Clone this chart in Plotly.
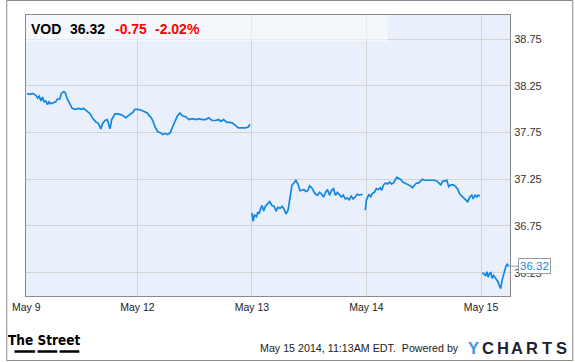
import plotly.graph_objects as go

# ---------------- data (x = trading-day position, 0 = May 9 open) ----------------
may9_12_x = [0.037,0.057,0.086,0.115,0.129,0.143,0.158,0.172,0.186,0.201,0.216,0.229,0.244,0.272,0.287,0.302,0.324,0.336,0.359,0.373,
             0.388,0.410,0.431,0.459,0.488,0.517,0.531,0.560,0.589,0.612,0.641,0.660,0.681,0.698,0.718,0.738,0.761,0.776,0.804,0.833,
             0.862,0.899,0.928,0.962,0.977,1.005,1.034,1.063,1.086,1.106,1.121,1.134,1.155,1.178,1.201,1.221,1.241,1.264,1.287,1.307,
             1.328,1.350,1.373,1.393,1.422,1.451,1.479,1.509,1.537,1.566,1.595,1.623,1.652,1.681,1.709,1.729,1.753,1.781,1.810,1.833,
             1.853,1.882,1.910,1.940,1.968,1.983]
may9_12_y = [38.17,38.16,38.17,38.15,38.12,38.14,38.09,38.13,38.08,38.09,38.05,38.08,38.06,38.07,38.08,38.11,38.11,38.17,38.19,38.17,
             38.11,38.06,38.01,38.00,38.01,38.00,38.01,37.98,37.95,37.90,37.86,37.85,37.79,37.85,37.88,37.89,37.79,37.89,37.95,37.95,
             37.94,37.91,37.94,37.97,38.00,38.00,37.99,37.97,37.96,37.93,37.91,37.88,37.81,37.76,37.75,37.73,37.74,37.73,37.75,37.81,
             37.86,37.93,37.96,37.93,37.92,37.89,37.90,37.89,37.90,37.89,37.89,37.91,37.88,37.88,37.89,37.87,37.89,37.86,37.86,37.85,
             37.83,37.80,37.80,37.80,37.81,37.84]

may13_x = [2.000,2.005,2.011,2.022,2.040,2.052,2.063,2.074,2.089,2.103,2.117,2.138,2.155,2.175,2.195,2.212,2.227,2.247,2.264,2.281,
           2.298,2.316,2.328,2.339,2.350,2.367,2.384,2.402,2.419,2.436,2.453,2.471,2.488,2.505,2.522,2.540,2.557,2.574,2.591,2.609,
           2.626,2.643,2.660,2.678,2.695,2.712,2.729,2.747,2.764,2.781,2.798,2.816,2.833,2.850,2.867,2.884,2.902,2.919,2.936,2.966]
may13_y = [36.89,36.83,36.80,36.87,36.85,36.90,36.88,36.93,36.97,36.91,36.96,36.99,37.01,36.97,36.96,36.91,36.95,36.94,36.96,36.93,
           36.88,36.92,37.01,37.12,37.19,37.21,37.24,37.20,37.13,37.13,37.14,37.12,37.13,37.18,37.16,37.12,37.09,37.08,37.11,37.09,
           37.06,37.11,37.14,37.08,37.13,37.15,37.08,37.11,37.09,37.06,37.08,37.04,37.05,37.03,37.07,37.04,37.06,37.09,37.08,37.09]

may14_x = [2.990,3.000,3.011,3.022,3.037,3.052,3.069,3.086,3.103,3.121,3.132,3.149,3.166,3.184,3.201,3.218,3.235,3.253,3.264,3.281,
           3.298,3.316,3.333,3.350,3.367,3.384,3.402,3.419,3.436,3.453,3.471,3.488,3.505,3.534,3.563,3.591,3.615,3.632,3.649,3.666,
           3.684,3.701,3.718,3.735,3.759,3.781,3.798,3.816,3.833,3.850,3.867,3.884,3.902,3.919,3.931,3.948,3.962,3.975,3.990]
may14_y = [36.92,37.03,37.06,37.09,37.06,37.10,37.11,37.15,37.14,37.16,37.13,37.19,37.21,37.20,37.22,37.20,37.21,37.24,37.27,37.26,
           37.25,37.22,37.21,37.20,37.19,37.18,37.16,37.19,37.21,37.21,37.23,37.25,37.24,37.24,37.24,37.24,37.23,37.21,37.19,37.23,
           37.23,37.24,37.17,37.19,37.19,37.17,37.14,37.09,37.07,37.04,37.03,37.01,37.06,37.08,37.04,37.08,37.06,37.08,37.07]

may15_x = [4.011,4.028,4.040,4.052,4.063,4.074,4.086,4.097,4.109,4.121,4.138,4.149,4.160,4.172,4.184,4.195,4.207,4.218,4.229,4.241]
may15_y = [36.25,36.23,36.22,36.26,36.20,36.24,36.25,36.19,36.22,36.20,36.17,36.15,36.11,36.08,36.17,36.22,36.27,36.32,36.34,36.32]

x_tick_pos = [0.03, 1, 2, 3, 4]
x_tick_labels = ["May 9", "May 12", "May 13", "May 14", "May 15"]
y_ticks = [36.25, 36.75, 37.25, 37.75, 38.25, 38.75]
y_tick_labels = ["36.25", "36.75", "37.25", "37.75", "38.25", "38.75"]

ticker = "VOD"
last_price = "36.32"
change = "-0.75"
change_pct = "-2.02%"
footer = "May 15 2014, 11:13AM EDT.\u00a0\u00a0Powered by"

# ---------------- figure ----------------
W, H = 575, 362
ML, MR, MT, MB = 20, 65, 15, 66
PW, PH = W - ML - MR, H - MT - MB


def px2x(px):
    return (px - ML) / PW


def py2y(py):
    return (H - MB - py) / PH


xs, ys = [], []
for sx, sy in [(may9_12_x, may9_12_y), (may13_x, may13_y), (may14_x, may14_y), (may15_x, may15_y)]:
    if xs:
        xs.append(None)
        ys.append(None)
    xs.extend(sx)
    ys.extend(sy)

FONT = "Liberation Sans, Arial, sans-serif"
BLUE = "#1187E3"

fig = go.Figure()
fig.add_trace(go.Scatter(x=xs, y=ys, mode="lines", line=dict(color=BLUE, width=1.7),
                         connectgaps=False, hoverinfo="skip", showlegend=False))

fig.update_layout(
    width=W, height=H,
    margin=dict(l=ML, r=MR, t=MT, b=MB, pad=0),
    paper_bgcolor="white",
    plot_bgcolor="#E9F0FB",
    font=dict(family=FONT, size=11, color="#333333"),
    showlegend=False,
)
fig.update_xaxes(range=[0.028, 4.253], tickvals=x_tick_pos, ticktext=x_tick_labels,
                 showgrid=True, gridcolor="#D3D3D3", gridwidth=1, zeroline=False,
                 showline=True, linecolor="#8A8A8A", linewidth=1, mirror=True,
                 ticks="", ticklabelstandoff=1, tickfont=dict(size=10.5, color="#222222"))
fig.update_yaxes(range=[36.0, 39.01], tickvals=y_ticks, ticktext=y_tick_labels, side="right",
                 showgrid=True, gridcolor="#D3D3D3", gridwidth=1, zeroline=False,
                 showline=True, linecolor="#8A8A8A", linewidth=1, mirror=True,
                 ticks="", ticklabelstandoff=1, tickfont=dict(size=11, color="#333333"))

shapes = []
# translucent header band
shapes.append(dict(type="rect", xref="paper", yref="paper", x0=0, x1=px2x(386), y0=py2y(41.5), y1=1,
                   fillcolor="rgba(255,255,255,0.5)", line=dict(width=0), layer="above"))
# outer frame
shapes.append(dict(type="rect", xref="paper", yref="paper", x0=px2x(0.5), x1=px2x(573.5),
                   y0=py2y(360.5), y1=py2y(0.5), line=dict(color="#8A8A8A", width=1), fillcolor="rgba(0,0,0,0)"))
# The Street underline dashes
for a, b in [(8.3, 29.3), (31.7, 51.7), (54, 74)]:
    shapes.append(dict(type="line", xref="paper", yref="paper", x0=px2x(a), x1=px2x(b),
                       y0=py2y(351.5), y1=py2y(351.5), line=dict(color="black", width=2.5)))
fig.update_layout(shapes=shapes)

ann = []
hy = py2y(29.2)
for txt, px, col in [(ticker, 23, "black"), (last_price, 63, "black"), (change, 108, "#FF0000"), (change_pct, 149, "#FF0000")]:
    ann.append(dict(text="<b>%s</b>" % txt, xref="paper", yref="paper", x=px2x(px), y=hy,
                    xanchor="left", yanchor="middle", showarrow=False,
                    font=dict(family=FONT, size=14, color=col)))

# last-price callout
ann.append(dict(text=last_price, x=may15_x[-1], y=may15_y[-1], xref="x", yref="y",
                showarrow=True, arrowhead=0, arrowwidth=1, arrowcolor="#999999",
                ax=26, ay=0, standoff=0, startstandoff=0,
                bgcolor="white", bordercolor="#999999", borderwidth=1, borderpad=1,
                font=dict(family=FONT, size=11.5, color=BLUE)))

# footer
ann.append(dict(text="<b>The Street</b>", xref="paper", yref="paper", x=px2x(0), y=py2y(339.5),
                xanchor="left", yanchor="middle", showarrow=False,
                font=dict(family="Liberation Sans Narrow, DejaVu Sans Condensed, Roboto, sans-serif",
                          size=13.5, color="black")))
ann.append(dict(text=footer, xref="paper", yref="paper", x=px2x(255), y=py2y(348.3),
                xanchor="left", yanchor="middle", showarrow=False,
                font=dict(family=FONT, size=10.7, color="#222222")))
logo = "YCHARTS"
for i, ch in enumerate(logo):
    ann.append(dict(text="<b>%s</b>" % ch, xref="paper", yref="paper", x=px2x(473 + 14.8 * i), y=py2y(348),
                    xanchor="center", yanchor="middle", showarrow=False,
                    font=dict(family=FONT, size=16.5, color="#3C97DE" if i == 0 else "#1E2230")))
fig.update_layout(annotations=ann)

fig.write_html("out.html")
